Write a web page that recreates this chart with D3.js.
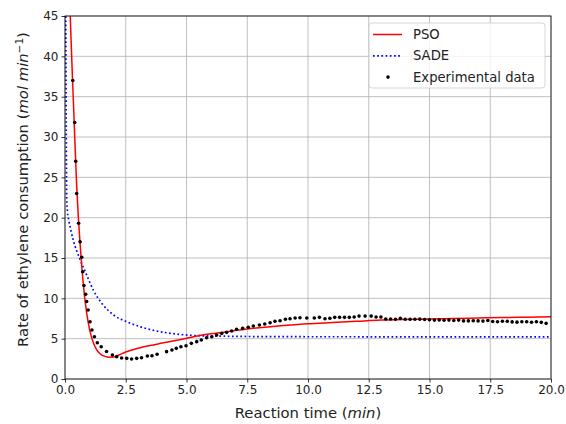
<!DOCTYPE html>
<html>
<head>
<meta charset="utf-8">
<script src="https://cdn.jsdelivr.net/npm/d3@7"></script>
<style>
  body { margin: 0; background: #fff; }
  svg { font-family: "DejaVu Sans", sans-serif; }
</style>
</head>
<body>
<svg width="566" height="424"></svg>
<script>
// values
const xTicks = [0, 2.5, 5, 7.5, 10, 12.5, 15, 17.5, 20];
const yTicks = [0, 5, 10, 15, 20, 25, 30, 35, 40, 45];

// PSO model curve
const psoTime = [0.21, 0.28, 0.35, 0.42, 0.48, 0.55, 0.62, 0.7, 0.8, 0.9, 1.0, 1.1, 1.2, 1.3, 1.4, 1.5, 1.65, 1.8, 2.0, 2.2, 2.5, 3.0, 3.5, 4.0, 4.5, 5.0, 5.5, 6.0, 7.0, 7.5, 8.0, 9.0, 10.0, 11.0, 12.0, 13.0, 14.0, 15.0, 16.0, 17.0, 18.0, 19.0, 20.0];
const psoRate = [45.5, 39.5, 34, 28.5, 24, 20, 16.8, 13.6, 10.4, 8.0, 6.3, 5.1, 4.25, 3.65, 3.25, 3.0, 2.8, 2.7, 2.72, 2.95, 3.35, 3.8, 4.15, 4.45, 4.75, 5.04, 5.35, 5.6, 6.0, 6.2, 6.35, 6.62, 6.85, 7.0, 7.15, 7.3, 7.38, 7.43, 7.5, 7.56, 7.62, 7.67, 7.72];

// SADE model curve
const sadeTime = [0.03, 0.05, 0.07, 0.1, 0.16, 0.25, 0.34, 0.58, 0.89, 1.17, 1.51, 2.0, 2.54, 3.22, 3.91, 4.6, 5.28, 6.65, 8.0, 10.0, 15.0, 20.0];
const sadeRate = [45.5, 32, 22.5, 20.8, 19.6, 18.3, 17.2, 15.1, 12.9, 11.0, 9.4, 7.93, 7.1, 6.36, 5.87, 5.57, 5.4, 5.3, 5.26, 5.24, 5.23, 5.22];

// experimental data
const expTime = [0.32, 0.40, 0.44, 0.48, 0.56, 0.62, 0.69, 0.73, 0.78, 0.85, 0.89, 0.95, 1.03, 1.11, 1.21, 1.33, 1.49, 1.71, 1.95, 2.13, 2.33, 2.54, 2.74, 2.95, 3.15, 3.39, 3.58, 3.79,
  4.18, 4.40, 4.58, 4.77, 4.98, 5.20, 5.42, 5.61, 5.83, 6.04, 6.24, 6.45, 6.65, 6.86, 7.06, 7.31, 7.54, 7.75, 8.0, 8.22, 8.44, 8.64, 8.85, 9.07, 9.26, 9.47, 9.67, 9.95,
  10.26, 10.47, 10.7, 10.9, 11.1, 11.3, 11.5, 11.7, 11.9, 12.1, 12.35, 12.6, 12.8, 13.0, 13.2, 13.4, 13.6, 13.8, 14.0, 14.2, 14.4, 14.6, 14.8, 15.0, 15.2, 15.4, 15.6, 15.8,
  16.0, 16.2, 16.4, 16.6, 16.8, 17.0, 17.2, 17.4, 17.6, 17.8, 18.0, 18.2, 18.4, 18.6, 18.8, 19.0, 19.2, 19.4, 19.6, 19.8];
const expRate = [37.0, 31.8, 27.0, 23.0, 19.3, 17.0, 15.1, 13.3, 11.6, 10.5, 9.6, 8.55, 7.1, 6.07, 5.24, 4.5, 4.0, 3.4, 2.97, 2.77, 2.6, 2.56, 2.48, 2.56, 2.64, 2.85, 2.89, 3.06,
  3.39, 3.6, 3.8, 4.0, 4.13, 4.42, 4.63, 4.83, 5.12, 5.24, 5.45, 5.66, 5.78, 5.95, 6.16, 6.28, 6.4, 6.57, 6.69, 6.82, 6.98, 7.15, 7.23, 7.4, 7.47, 7.56, 7.6, 7.56,
  7.56, 7.64, 7.47, 7.52, 7.64, 7.64, 7.64, 7.64, 7.68, 7.8, 7.8, 7.8, 7.68, 7.68, 7.43, 7.43, 7.4, 7.52, 7.4, 7.4, 7.4, 7.42, 7.38, 7.35, 7.3, 7.32, 7.28, 7.3,
  7.25, 7.3, 7.2, 7.2, 7.22, 7.2, 7.18, 7.25, 7.12, 7.1, 7.15, 7.15, 7.08, 7.05, 7.1, 7.1, 7.03, 7.1, 7.02, 6.9];

const margin = {left: 65, top: 16, right: 15, bottom: 45};
const width = 566 - margin.left - margin.right;
const height = 424 - margin.top - margin.bottom;

var svg = d3.select("svg");
var g = svg.append("g").attr("transform", `translate(${margin.left},${margin.top})`);

var x = d3.scaleLinear().domain([0, 20]).range([0, width]);
var y = d3.scaleLinear().domain([0, 45]).range([height, 0]);

svg.append("defs").append("clipPath").attr("id", "plotclip")
  .append("rect").attr("width", width).attr("height", height);

// grid
g.append("g").selectAll("line").data(xTicks).enter().append("line")
  .attr("x1", d => x(d)).attr("x2", d => x(d))
  .attr("y1", 0).attr("y2", height)
  .style("stroke", "#b0b0b0").style("stroke-width", 0.8);
g.append("g").selectAll("line").data(yTicks).enter().append("line")
  .attr("y1", d => y(d)).attr("y2", d => y(d))
  .attr("x1", 0).attr("x2", width)
  .style("stroke", "#b0b0b0").style("stroke-width", 0.8);

var plot = g.append("g").attr("clip-path", "url(#plotclip)");

var line = d3.line()
  .x(d => x(d[0])).y(d => y(d[1]))
  .curve(d3.curveMonotoneX);

plot.append("path")
  .datum(sadeTime.map((t, i) => [t, sadeRate[i]]))
  .attr("d", line)
  .style("fill", "none").style("stroke", "#0000ff")
  .style("stroke-width", 1.7).style("stroke-dasharray", "1.7,2.5");

plot.append("path")
  .datum(psoTime.map((t, i) => [t, psoRate[i]]))
  .attr("d", line)
  .style("fill", "none").style("stroke", "#ff0000").style("stroke-width", 1.5);

plot.append("g").selectAll("circle")
  .data(expTime.map((t, i) => [t, expRate[i]]))
  .enter().append("circle")
  .attr("cx", d => x(d[0])).attr("cy", d => y(d[1]))
  .attr("r", 1.8).style("fill", "#000");

// axes
var xAxis = g.append("g").attr("transform", `translate(0,${height})`)
  .call(d3.axisBottom(x).tickValues(xTicks).tickFormat(d3.format(".1f")).tickSizeOuter(0).tickSize(3.5).tickPadding(3));
var yAxis = g.append("g")
  .call(d3.axisLeft(y).tickValues(yTicks).tickFormat(d3.format("d")).tickSizeOuter(0).tickSize(3.5).tickPadding(3));
[xAxis, yAxis].forEach(a => {
  a.selectAll("text").style("font-size", "12px").style("fill", "#222").style("font-family", "DejaVu Sans");
  a.selectAll("line").style("stroke", "#000").style("stroke-width", 0.8);
  a.select(".domain").remove();
});

// frame
g.append("rect").attr("width", width).attr("height", height)
  .style("fill", "none").style("stroke", "#000").style("stroke-width", 0.8);

// labels
var xl = svg.append("text")
  .attr("x", margin.left + width / 2).attr("y", 418)
  .attr("text-anchor", "middle").style("font-size", "14.8px").style("fill", "#222");
xl.append("tspan").text("Reaction time (");
xl.append("tspan").style("font-style", "italic").text("min");
xl.append("tspan").text(")");

var yl = svg.append("text")
  .attr("transform", `translate(28,${margin.top + height / 2 - 8}) rotate(-90)`)
  .attr("text-anchor", "middle").style("font-size", "14.8px").style("fill", "#222");
yl.append("tspan").text("Rate of ethylene consumption (");
yl.append("tspan").style("font-style", "italic").text("mol min");
yl.append("tspan").attr("dy", -5).style("font-size", "10.5px").text("\u22121");
yl.append("tspan").attr("dy", 5).text(")");

// legend
var lg = svg.append("g").attr("transform", "translate(369,23)");
lg.append("rect").attr("width", 176).attr("height", 65).attr("rx", 3)
  .style("fill", "#fff").style("fill-opacity", 0.8)
  .style("stroke", "#cccccc").style("stroke-width", 0.8);
const legendItems = ["PSO", "SADE", "Experimental data"];
legendItems.forEach((name, i) => {
  var yy = 11.5 + i * 21.3;
  if (i == 0) lg.append("line").attr("x1", 4).attr("x2", 33).attr("y1", yy).attr("y2", yy)
    .style("stroke", "#ff0000").style("stroke-width", 1.5);
  if (i == 1) lg.append("line").attr("x1", 4).attr("x2", 33).attr("y1", yy).attr("y2", yy)
    .style("stroke", "#0000ff").style("stroke-width", 1.7).style("stroke-dasharray", "1.7,2.5");
  if (i == 2) lg.append("circle").attr("cx", 19).attr("cy", yy).attr("r", 1.8).style("fill", "#000");
  lg.append("text").attr("x", 44).attr("y", yy + 4.5)
    .style("font-size", "13.2px").style("fill", "#222").text(name);
});
</script>
</body>
</html>
